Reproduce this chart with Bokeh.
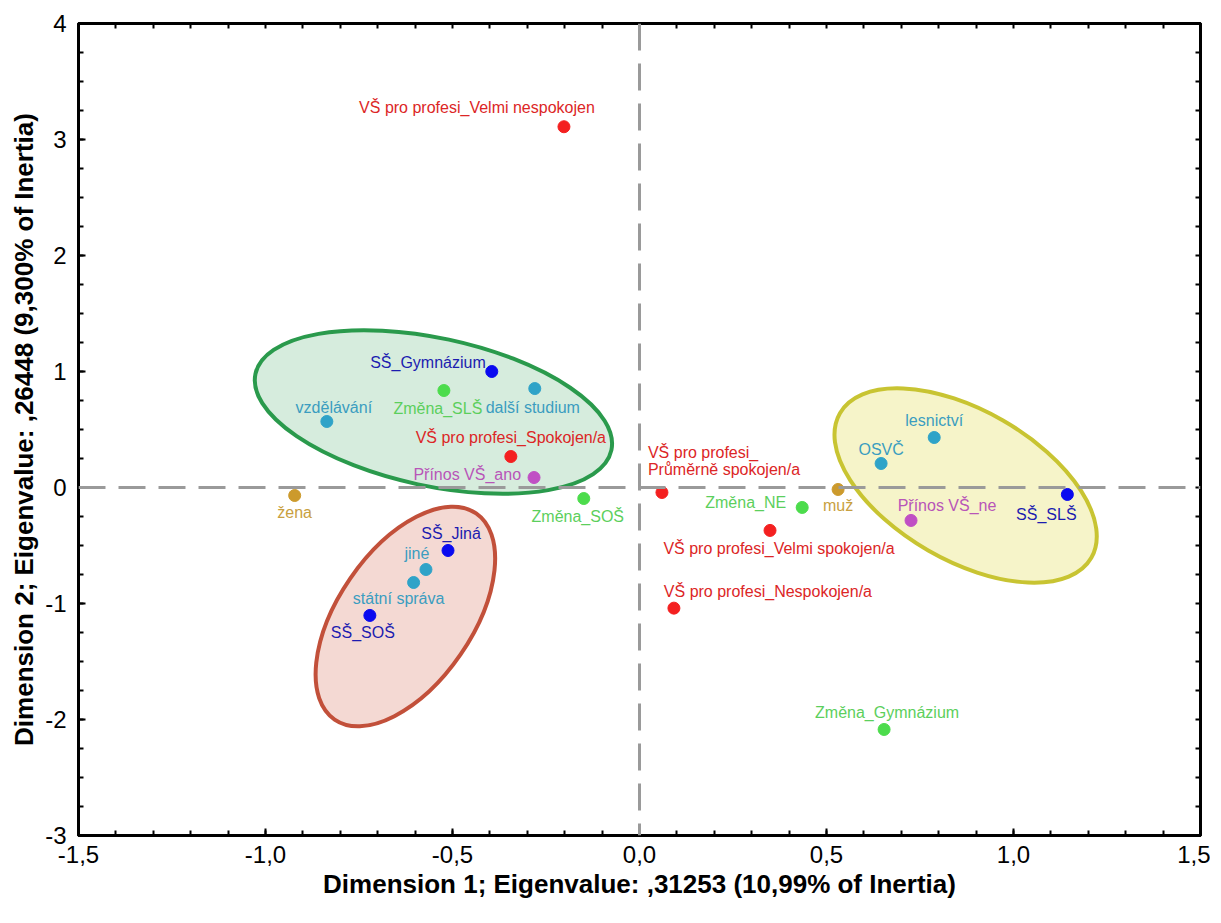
from bokeh.plotting import figure
from bokeh.models import ColumnDataSource, FixedTicker, Span, LinearAxis
from bokeh.embed import file_html
from bokeh.resources import INLINE
from bokeh.core.properties import value

# ---------------- data ----------------
names = [
    "VŠ pro profesi_Velmi nespokojen", "VŠ pro profesi_Spokojen/a",
    "VŠ pro profesi_\nPrůměrně spokojen/a", "VŠ pro profesi_Velmi spokojen/a",
    "VŠ pro profesi_Nespokojen/a",
    "Změna_SLŠ", "Změna_SOŠ", "Změna_NE", "Změna_Gymnázium",
    "SŠ_Gymnázium", "SŠ_Jiná", "SŠ_SOŠ", "SŠ_SLŠ",
    "vzdělávání", "další studium", "jiné", "státní správa", "OSVČ", "lesnictví",
    "Přínos VŠ_ano", "Přínos VŠ_ne",
    "žena", "muž",
]
dim1 = [-0.202, -0.344, 0.060, 0.349, 0.092,
        -0.523, -0.149, 0.435, 0.654,
        -0.395, -0.512, -0.721, 1.144,
        -0.836, -0.280, -0.571, -0.604, 0.646, 0.788,
        -0.282, 0.726,
        -0.922, 0.531]
dim2 = [3.11, 0.267, -0.043, -0.370, -1.040,
        0.836, -0.095, -0.172, -2.086,
        1.000, -0.543, -1.103, -0.060,
        0.569, 0.853, -0.707, -0.819, 0.207, 0.431,
        0.086, -0.284,
        -0.069, -0.017]
group = ["vs"] * 5 + ["zmena"] * 4 + ["ss"] * 4 + ["prace"] * 6 + ["prinos"] * 2 + ["pohlavi"] * 2

x_ticks = [-1.5, -1.0, -0.5, 0.0, 0.5, 1.0, 1.5]
x_tick_labels = ["-1,5", "-1,0", "-0,5", "0,0", "0,5", "1,0", "1,5"]
y_ticks = [-3, -2, -1, 0, 1, 2, 3, 4]
y_tick_labels = ["-3", "-2", "-1", "0", "1", "2", "3", "4"]

# cluster ellipses (centre in data units)
ell_x = [-0.551, 0.872, -0.626]
ell_y = [0.651, 0.017, -1.112]

# ---------------- styles ----------------
point_col = {"vs": "#f42020", "zmena": "#4cdc4c", "ss": "#0a0af0", "prace": "#2fa3c8",
             "prinos": "#c04fc4", "pohlavi": "#cc9a2c"}
text_col = {"vs": "#dc2626", "zmena": "#5ccf5c", "ss": "#1c1cb0", "prace": "#3b9dc0",
            "prinos": "#b855b8", "pohlavi": "#c8a040"}
# label offsets in screen pixels (dx right, dy down) and alignment
lab_dx = [-87, 0, -14, 9, 94,
          -6, -6, -16, 3,
          -6, 3, -7, -21,
          7, -2, -9, -15, 0, 0,
          -13, 36,
          0, 0]
lab_dy = [-19, -19, -31, 18, -17,
          18, 18, -5, -17,
          -9, -17, 17, 20,
          -14, 19, -16, 16, -14, -17,
          -3, -15,
          17, 16]
lab_align = ["center", "center", "left", "center", "center",
             "center", "center", "right", "center",
             "right", "center", "center", "center",
             "center", "center", "center", "center", "center", "center",
             "right", "center",
             "center", "center"]

ell_w = [364, 290, 250]
ell_h = [148, 150, 134]
ell_ang = [-0.211, -0.522, 0.969]
ell_line = ["#2a9a4c", "#c8c432", "#c2503a"]
ell_fill = ["#d6ecdd", "#f6f4c9", "#f4d9d3"]

FONT = "Liberation Sans"

p = figure(frame_width=1122, frame_height=812, x_range=(-1.5, 1.5), y_range=(-3, 4),
           output_backend="svg", toolbar_location=None,
           min_border_left=78, min_border_top=23, min_border_right=10, min_border_bottom=82)
p.background_fill_color = "white"
p.border_fill_color = "white"
p.xgrid.visible = False
p.ygrid.visible = False
p.outline_line_color = "black"
p.outline_line_width = 3

# ellipses
p.ellipse(x=ell_x, y=ell_y, width=ell_w, height=ell_h, angle=ell_ang,
          width_units="screen", height_units="screen",
          fill_color=ell_fill, line_color=ell_line, line_width=4)

# reference lines
for dim in ("width", "height"):
    p.add_layout(Span(location=0, dimension=dim, line_color="#9a9a9a",
                      line_width=3, line_dash="27 13"))

src = ColumnDataSource(dict(
    x=dim1, y=dim2, name=names,
    pc=[point_col[g] for g in group], tc=[text_col[g] for g in group],
    dx=lab_dx, dy=lab_dy, al=lab_align,
))
p.scatter("x", "y", source=src, size=12, fill_color="pc", line_color="pc")
p.text("x", "y", text="name", source=src, x_offset="dx", y_offset="dy",
       text_align="al", text_baseline="middle", text_color="tc",
       text_font=value(FONT), text_font_size="16px", text_line_height=1.0)

# axes styling
def style_axis(ax, ticks, minor, labels=None, tick_len=7):
    ax.ticker = FixedTicker(ticks=ticks, minor_ticks=minor)
    ax.axis_line_width = 3
    ax.axis_line_color = "black"
    ax.major_tick_in = tick_len
    ax.major_tick_out = 0
    ax.minor_tick_in = 5
    ax.minor_tick_out = 0
    ax.major_tick_line_width = 2
    ax.minor_tick_line_width = 2
    ax.major_label_text_font = FONT
    ax.major_label_text_font_size = "24px"
    ax.major_label_text_color = "black"
    if labels is not None:
        ax.major_label_overrides = labels

x_minor = [round(-1.5 + 0.1 * i, 2) for i in range(31)]
y_minor = [round(-3 + 0.25 * i, 2) for i in range(29)]

xa = p.xaxis[0]
style_axis(xa, x_ticks, x_minor, {t: l for t, l in zip(x_ticks, x_tick_labels)})
xa.major_label_standoff = 10
xa.axis_label = "Dimension 1; Eigenvalue: ,31253 (10,99% of Inertia)"
xa.axis_label_text_font = FONT
xa.axis_label_text_font_style = "bold"
xa.axis_label_text_font_size = "26px"
xa.axis_label_text_color = "black"
xa.axis_label_standoff = 3

ya = p.yaxis[0]
style_axis(ya, y_ticks, y_minor, {t: l for t, l in zip(y_ticks, y_tick_labels)})
ya.major_label_standoff = 12
ya.axis_label = "Dimension 2; Eigenvalue: ,26448 (9,300% of Inertia)"
ya.axis_label_text_font = FONT
ya.axis_label_text_font_style = "bold"
ya.axis_label_text_font_size = "26px"
ya.axis_label_text_color = "black"
ya.axis_label_standoff = 3

# top and right frame axes: tick marks only, no labels
top = LinearAxis()
style_axis(top, [], x_minor)
p.add_layout(top, "above")

right = LinearAxis()
style_axis(right, [], y_minor)
p.add_layout(right, "right")

open("out.html", "w").write(file_html(p, INLINE))
